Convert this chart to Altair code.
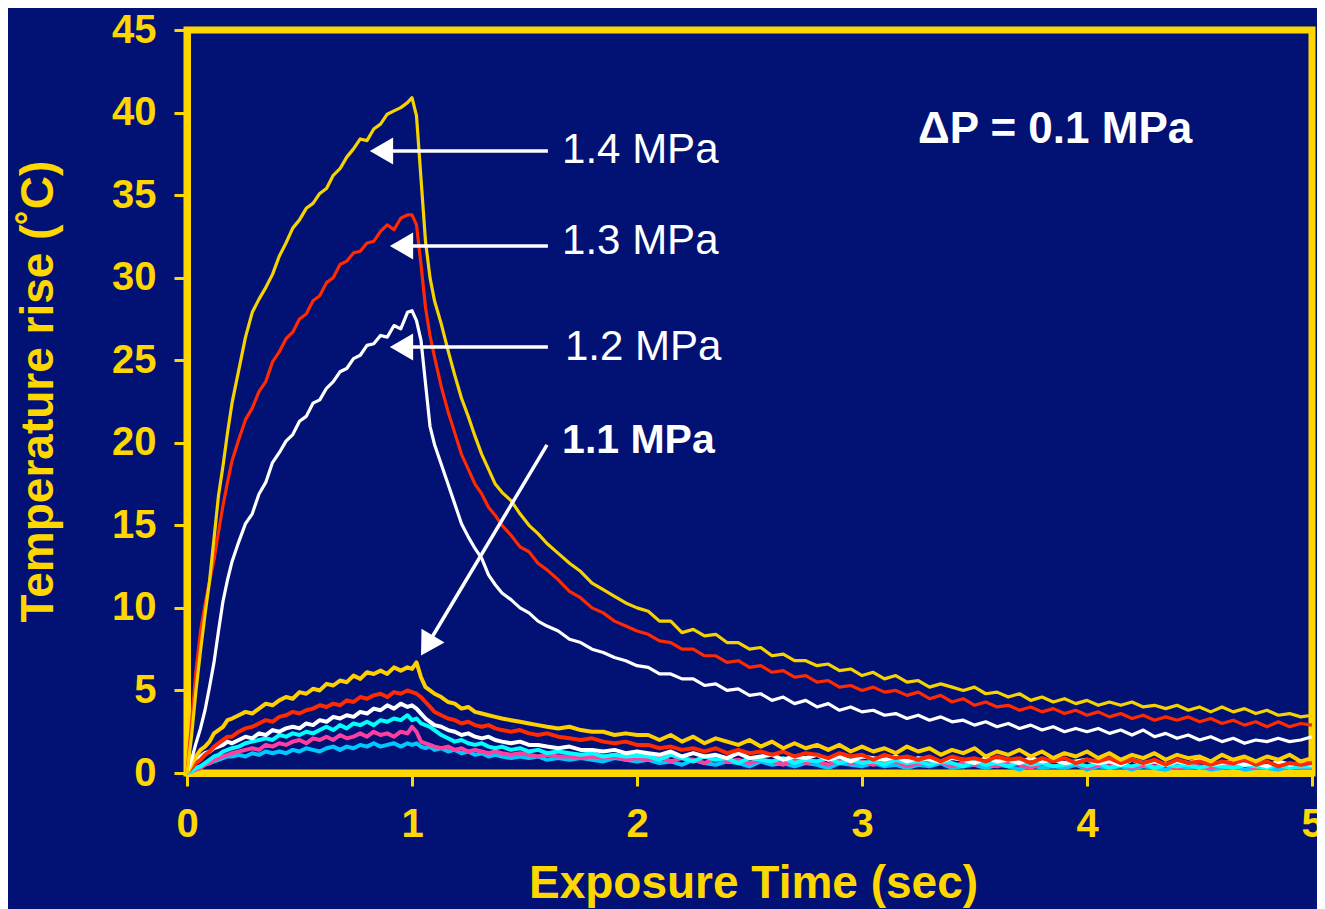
import altair as alt
import pandas as pd

# ---------------- data ----------------
T_RISE = [0, 0.02, 0.04, 0.06, 0.08, 0.10, 0.12, 0.14, 0.16, 0.18, 0.20, 0.23, 0.26, 0.29, 0.32,
          0.35, 0.38, 0.41, 0.44, 0.47, 0.50, 0.53, 0.56, 0.59, 0.62, 0.65, 0.68, 0.71, 0.74, 0.77,
          0.80, 0.83, 0.86, 0.89, 0.92, 0.95, 0.98, 1.00, 1.02, 1.04, 1.06, 1.08, 1.10, 1.13, 1.16,
          1.19, 1.22, 1.25, 1.28, 1.31, 1.34, 1.37, 1.40, 1.44, 1.48, 1.52, 1.56, 1.60, 1.65, 1.70,
          1.75, 1.80, 1.85, 1.90, 1.95, 2.00]
T_TAIL = [2.05, 2.10, 2.15, 2.20, 2.25, 2.30, 2.35, 2.40, 2.45, 2.50, 2.55, 2.60, 2.65, 2.70, 2.75,
          2.80, 2.85, 2.90, 2.95, 3.00, 3.05, 3.10, 3.15, 3.20, 3.25, 3.30, 3.35, 3.40, 3.45, 3.50,
          3.55, 3.60, 3.65, 3.70, 3.75, 3.80, 3.85, 3.90, 3.95, 4.00, 4.05, 4.10, 4.15, 4.20, 4.25,
          4.30, 4.35, 4.40, 4.45, 4.50, 4.55, 4.60, 4.65, 4.70, 4.75, 4.80, 4.85, 4.90, 4.95, 5.00]
TIME = T_RISE + T_TAIL

P14 = [0, 2.2, 5.0, 7.4, 9.6, 11.6, 14.2, 16.8, 18.6, 20.6, 22.4, 24.4, 26.4, 27.9, 28.7, 29.4, 30.2,
       31.3, 32.1, 33.0, 33.5, 34.2, 34.5, 35.1, 35.4, 36.2, 36.6, 37.3, 37.8, 38.4, 38.3, 39.0, 39.3,
       39.9, 40.1, 40.3, 40.6, 40.9, 39.8, 36.0, 32.2, 30.0, 28.6, 27.2, 25.6, 24.1, 22.7, 21.6, 20.4,
       19.3, 18.4, 17.5, 17.0, 16.5, 15.7, 15.0, 14.5, 13.9, 13.3, 12.7, 12.2, 11.5, 11.1, 10.7, 10.3, 10.0] + \
      [9.8, 9.2, 9.2, 8.5, 8.7, 8.3, 8.4, 7.9, 7.9, 7.5, 7.6, 7.1, 7.2, 6.8, 6.8, 6.5, 6.6, 6.2, 6.3, 5.9,
       6.1, 5.7, 5.9, 5.5, 5.6, 5.2, 5.4, 5.2, 5.0, 5.2, 4.8, 4.9, 4.6, 4.8, 4.4, 4.6, 4.3, 4.5, 4.2, 4.4,
       4.1, 4.3, 4.1, 4.3, 4.0, 4.1, 3.9, 4.1, 3.8, 4.0, 3.7, 4.0, 3.7, 3.9, 3.6, 3.8, 3.5, 3.6, 3.4, 3.5]

P13 = [0, 3.0, 6.2, 8.6, 10.2, 11.6, 12.9, 14.6, 16.2, 17.6, 18.9, 20.2, 21.4, 22.1, 23.1, 23.7, 24.9,
       25.5, 26.3, 26.7, 27.5, 27.8, 28.6, 28.9, 29.7, 30.0, 30.8, 31.0, 31.5, 31.6, 32.1, 32.2, 32.8,
       33.2, 32.9, 33.6, 33.8, 33.8, 33.2, 30.8, 28.2, 26.5, 25.2, 23.4, 21.9, 20.6, 19.3, 18.4, 17.5,
       16.9, 16.1, 15.6, 15.0, 14.4, 13.7, 13.4, 12.7, 12.3, 11.7, 11.0, 10.6, 10.0, 9.7, 9.2, 8.9, 8.6] + \
      [8.4, 8.0, 7.9, 7.5, 7.5, 7.1, 7.1, 6.7, 6.8, 6.4, 6.5, 6.1, 6.2, 5.8, 5.9, 5.5, 5.6, 5.2, 5.3, 5.0,
       5.2, 4.9, 5.0, 4.7, 4.9, 4.5, 4.7, 4.3, 4.5, 4.1, 4.3, 4.0, 4.1, 3.8, 4.0, 3.7, 3.9, 3.6, 3.8, 3.5,
       3.7, 3.4, 3.6, 3.3, 3.5, 3.2, 3.4, 3.2, 3.4, 3.1, 3.3, 3.0, 3.2, 2.9, 3.1, 2.8, 3.1, 2.8, 3.0, 2.9]

P12 = [0, 0.8, 1.8, 2.7, 3.8, 5.2, 6.7, 8.6, 10.4, 11.7, 12.8, 14.0, 15.1, 15.7, 16.9, 17.6, 18.8,
       19.4, 20.1, 20.5, 21.3, 21.6, 22.4, 22.6, 23.3, 23.7, 24.3, 24.5, 25.1, 25.3, 25.9, 26.0, 26.5,
       26.4, 27.1, 26.9, 27.9, 28.0, 27.4, 26.2, 23.6, 21.0, 19.9, 18.7, 17.5, 16.3, 15.1, 14.3, 13.6,
       13.0, 12.0, 11.4, 10.9, 10.5, 10.0, 9.7, 9.2, 8.9, 8.6, 8.1, 7.9, 7.5, 7.3, 7.0, 6.8, 6.5] + \
      [6.4, 6.0, 6.0, 5.7, 5.7, 5.3, 5.4, 5.0, 5.1, 4.7, 4.8, 4.4, 4.6, 4.2, 4.4, 4.0, 4.2, 3.8, 4.0, 3.7,
       3.8, 3.5, 3.6, 3.3, 3.5, 3.2, 3.4, 3.1, 3.2, 2.9, 3.1, 2.8, 3.0, 2.7, 2.9, 2.6, 2.8, 2.5, 2.7, 2.5,
       2.7, 2.4, 2.6, 2.3, 2.6, 2.2, 2.4, 2.1, 2.3, 2.0, 2.2, 1.9, 2.1, 1.8, 2.0, 1.9, 2.1, 1.9, 2.0, 2.2]

P11 = [0, 0.5, 1.0, 1.4, 1.6, 1.9, 2.4, 2.6, 2.8, 3.2, 3.3, 3.5, 3.7, 3.6, 3.9, 4.2, 4.1, 4.4, 4.6,
       4.5, 4.9, 4.8, 5.1, 5.0, 5.4, 5.3, 5.6, 5.5, 5.9, 5.7, 6.1, 6.0, 6.2, 6.0, 6.4, 6.2, 6.4, 6.3,
       6.7, 5.8, 5.2, 5.0, 4.8, 4.6, 4.3, 4.2, 3.9, 4.0, 3.7, 3.6, 3.5, 3.4, 3.3, 3.2, 3.1, 3.0, 2.9,
       2.8, 2.7, 2.8, 2.6, 2.5, 2.5, 2.3, 2.4, 2.3] + \
      [2.3, 2.0, 2.3, 1.9, 2.2, 1.8, 2.1, 1.9, 1.7, 2.0, 1.6, 1.9, 1.5, 1.8, 1.5, 1.7, 1.4, 1.7, 1.3, 1.6,
       1.3, 1.5, 1.2, 1.6, 1.3, 1.5, 1.1, 1.4, 1.2, 1.5, 1.0, 1.3, 1.1, 1.4, 1.0, 1.3, 0.9, 1.2, 1.0, 1.3,
       0.9, 1.2, 0.8, 1.1, 0.9, 1.2, 0.8, 1.1, 0.9, 1.0, 0.7, 1.1, 0.8, 1.0, 0.7, 1.0, 0.8, 1.1, 0.7, 0.9]

P10 = [0, 0.3, 0.6, 0.8, 1.1, 1.3, 1.6, 1.8, 2.0, 2.2, 2.2, 2.5, 2.7, 2.8, 3.0, 3.2, 3.1, 3.4, 3.5,
       3.7, 3.6, 3.8, 3.9, 4.1, 4.0, 4.2, 4.1, 4.4, 4.3, 4.6, 4.5, 4.7, 4.8, 4.6, 4.9, 4.8, 5.0, 4.9,
       4.8, 4.6, 4.3, 4.0, 3.7, 3.5, 3.3, 3.2, 3.0, 3.1, 2.9, 2.8, 2.9, 2.7, 2.6, 2.5, 2.6, 2.4, 2.3,
       2.4, 2.2, 2.1, 2.0, 2.1, 1.9, 1.8, 1.9, 1.7] + \
      [1.7, 1.5, 1.6, 1.4, 1.5, 1.3, 1.5, 1.2, 1.4, 1.2, 1.3, 1.1, 1.3, 1.0, 1.2, 1.1, 0.9, 1.2, 1.0, 1.1,
       0.8, 1.1, 0.9, 1.0, 0.8, 1.0, 0.7, 1.0, 0.8, 0.9, 0.7, 1.0, 0.8, 0.9, 0.6, 0.9, 0.7, 0.9, 0.6, 0.8,
       0.7, 0.9, 0.6, 0.8, 0.6, 0.8, 0.5, 0.8, 0.6, 0.7, 0.5, 0.7, 0.6, 0.8, 0.5, 0.7, 0.4, 0.6, 0.5, 0.6]

P09 = [0, 0.4, 0.7, 1.0, 1.2, 1.3, 1.5, 1.6, 1.7, 1.9, 1.8, 2.0, 2.2, 2.1, 2.4, 2.3, 2.6, 2.5, 2.7,
       2.8, 2.7, 3.0, 2.9, 3.2, 3.1, 3.4, 3.3, 3.5, 3.4, 3.7, 3.6, 3.9, 3.8, 4.1, 3.9, 4.2, 4.0, 4.1,
       3.9, 3.6, 3.3, 3.1, 2.9, 2.8, 2.6, 2.5, 2.3, 2.4, 2.2, 2.1, 2.2, 2.0, 1.9, 1.8, 1.9, 1.7, 1.7,
       1.6, 1.5, 1.6, 1.4, 1.4, 1.3, 1.4, 1.2, 1.3] + \
      [1.2, 1.1, 1.3, 1.0, 1.2, 1.0, 1.1, 0.9, 1.2, 0.9, 1.0, 1.1, 0.8, 1.0, 0.9, 1.1, 0.8, 1.0, 0.7, 1.0,
       0.9, 0.8, 1.0, 0.7, 0.9, 0.8, 0.7, 0.9, 0.8, 0.6, 0.9, 0.7, 0.8, 0.6, 0.9, 0.7, 0.8, 0.6, 0.7, 0.8,
       0.6, 0.7, 0.5, 0.8, 0.6, 0.7, 0.5, 0.7, 0.6, 0.8, 0.5, 0.6, 0.7, 0.5, 0.6, 0.4, 0.7, 0.5, 0.6, 0.5]

P08 = [0, 0.1, 0.3, 0.4, 0.6, 0.8, 1.0, 1.1, 1.3, 1.4, 1.5, 1.6, 1.8, 1.9, 2.0, 2.1, 2.0, 2.3, 2.2,
       2.4, 2.3, 2.5, 2.4, 2.6, 2.8, 2.6, 2.9, 2.7, 3.0, 2.9, 3.1, 2.9, 3.2, 3.1, 3.3, 3.2, 3.5, 3.2,
       3.3, 3.0, 2.9, 2.8, 2.6, 2.3, 2.1, 1.9, 2.0, 1.8, 1.7, 1.8, 1.6, 1.5, 1.6, 1.4, 1.5, 1.3, 1.4,
       1.2, 1.3, 1.2, 1.1, 1.2, 1.0, 1.1, 1.0, 1.05] + \
      [1.0, 0.8, 1.1, 0.9, 0.7, 1.0, 0.8, 0.9, 0.6, 0.9, 0.8, 0.7, 0.9, 0.6, 0.8, 0.7, 0.9, 0.6, 0.8, 0.6,
       0.7, 0.5, 0.8, 0.6, 0.7, 0.5, 0.7, 0.6, 0.4, 0.7, 0.5, 0.6, 0.4, 0.7, 0.5, 0.6, 0.4, 0.5, 0.6, 0.4,
       0.6, 0.3, 0.5, 0.4, 0.6, 0.3, 0.5, 0.4, 0.5, 0.3, 0.5, 0.4, 0.3, 0.5, 0.4, 0.3, 0.5, 0.3, 0.4, 0.4]

P07 = [0, 0.1, 0.2, 0.3, 0.5, 0.6, 0.8, 0.9, 1.0, 1.1, 1.2, 1.3, 1.4, 1.5, 1.4, 1.7, 1.6, 1.8, 1.7,
       1.9, 2.0, 1.8, 2.1, 2.0, 2.2, 2.0, 2.3, 2.1, 2.2, 2.4, 2.2, 2.5, 2.3, 2.4, 2.2, 2.5, 2.4, 2.8,
       2.5, 1.9, 1.8, 1.7, 1.6, 1.5, 1.6, 1.4, 1.5, 1.3, 1.4, 1.3, 1.2, 1.3, 1.2, 1.1, 1.2, 1.1, 1.0,
       1.1, 1.0, 1.0, 0.9, 1.0, 0.9, 1.0, 0.8, 0.9] + \
      [0.8, 1.0, 0.7, 0.9, 0.8, 0.6, 0.9, 0.7, 0.8, 0.6, 0.8, 0.7, 0.5, 0.8, 0.6, 0.7, 0.5, 0.8, 0.6, 0.7,
       0.5, 0.6, 0.7, 0.4, 0.6, 0.5, 0.7, 0.4, 0.6, 0.5, 0.6, 0.4, 0.6, 0.5, 0.3, 0.6, 0.4, 0.5, 0.6, 0.3,
       0.5, 0.4, 0.6, 0.3, 0.5, 0.4, 0.5, 0.3, 0.5, 0.4, 0.3, 0.5, 0.4, 0.5, 0.3, 0.4, 0.5, 0.3, 0.4, 0.4]

P06 = [0, 0.1, 0.3, 0.4, 0.5, 0.6, 0.7, 0.8, 0.9, 1.0, 1.0, 1.1, 1.0, 1.2, 1.1, 1.3, 1.2, 1.3, 1.2,
       1.4, 1.3, 1.5, 1.4, 1.3, 1.5, 1.6, 1.4, 1.6, 1.5, 1.7, 1.6, 1.8, 1.6, 1.7, 1.8, 1.6, 1.8, 1.7,
       1.8, 1.6, 1.5, 1.6, 1.4, 1.5, 1.3, 1.4, 1.2, 1.3, 1.1, 1.2, 1.0, 1.1, 1.0, 0.9, 1.0, 0.9, 1.0,
       0.8, 0.9, 0.8, 0.9, 0.8, 0.7, 0.9, 0.8, 0.7] + \
      [0.8, 0.6, 0.7, 0.5, 0.8, 0.6, 0.5, 0.7, 0.6, 0.4, 0.7, 0.5, 0.6, 0.4, 0.6, 0.5, 0.3, 0.6, 0.5, 0.4,
       0.6, 0.4, 0.5, 0.3, 0.5, 0.4, 0.6, 0.3, 0.4, 0.5, 0.3, 0.5, 0.4, 0.2, 0.5, 0.3, 0.4, 0.3, 0.5, 0.2,
       0.4, 0.3, 0.4, 0.2, 0.4, 0.3, 0.2, 0.4, 0.3, 0.4, 0.2, 0.3, 0.4, 0.2, 0.3, 0.3, 0.2, 0.4, 0.3, 0.3]

# drawing order: bottom-most first
SERIES_NAMES = ["0.6 MPa", "0.7 MPa", "0.8 MPa", "0.9 MPa", "1.0 MPa", "1.1 MPa",
                "1.2 MPa", "1.3 MPa", "1.4 MPa"]
SERIES_VALUES = [P06, P07, P08, P09, P10, P11, P12, P13, P14]
SERIES_COLORS = ["#00C8FF", "#FF3FA0", "#00FFFF", "#FFFFFF", "#FF2A00", "#FFD000",
                 "#FFFFFF", "#FF2A00", "#F5D300"]
SERIES_WIDTHS = [4.0, 4.0, 4.0, 4.0, 4.0, 4.0, 3.2, 3.2, 3.2]

# annotations (data units)
LABELS = ["1.4 MPa", "1.3 MPa", "1.2 MPa"]
LABEL_T = [1.667, 1.667, 1.68]
LABEL_V = [36.95, 31.43, 25.01]
BOLD_LABELS = ["1.1 MPa", "ΔP = 0.1 MPa"]
BOLD_T = [1.667, 3.249]
BOLD_V = [19.38, 38.16]
BOLD_SIZE = [41, 44]
ARROW_T0 = [1.604, 1.604, 1.604]
ARROW_T1 = [0.8644, 0.9533, 0.9533]
ARROW_V = [37.67, 31.92, 25.80]
DIAG_T = [1.600, 1.0756]
DIAG_V = [19.87, 7.92]
DIAG_ANGLE = 211

for vals in SERIES_VALUES:
    assert len(vals) == len(TIME), len(vals)

# ---------------- chart ----------------
FONT = "Liberation Sans"
YEL = "#FFD700"
BG = "#021274"

x_axis = alt.Axis(values=[0, 1, 2, 3, 4, 5], format="d", title="Exposure Time (sec)", grid=False,
                  domainColor=YEL, domainWidth=7, tickColor=YEL, tickWidth=3, tickSize=13,
                  labelColor=YEL, labelFont=FONT, labelFontSize=40, labelFontWeight="bold",
                  labelPadding=18, labelFlush=False, labelOverlap=False,
                  titleColor=YEL, titleFont=FONT, titleFontSize=46, titleFontWeight="bold",
                  titleX=566, titleY=124, titleBaseline="alphabetic", titleAlign="center")
y_axis = alt.Axis(values=list(range(0, 50, 5)), format="d", title="Temperature rise (˚C)", grid=False,
                  domainColor=YEL, domainWidth=7, tickColor=YEL, tickWidth=3, tickSize=13,
                  labelColor=YEL, labelFont=FONT, labelFontSize=40, labelFontWeight="bold",
                  labelPadding=18, labelFlush=False, labelOverlap=False,
                  titleColor=YEL, titleFont=FONT, titleFontSize=46, titleFontWeight="bold",
                  titleAngle=270, titleX=-135, titleY=361, titleBaseline="alphabetic",
                  titleAlign="center")
xs = alt.Scale(domain=[0, 5], nice=False, zero=False)
ys = alt.Scale(domain=[0, 45], nice=False, zero=False)


def X(field="t"):
    return alt.X(f"{field}:Q", scale=xs, axis=x_axis)


def Y(field="v"):
    return alt.Y(f"{field}:Q", scale=ys, axis=y_axis)


layers = []
for name, vals, col, w in zip(SERIES_NAMES, SERIES_VALUES, SERIES_COLORS, SERIES_WIDTHS):
    df = pd.DataFrame({"t": TIME, "v": vals, "series": name})
    layers.append(
        alt.Chart(df).mark_line(color=col, strokeWidth=w, strokeJoin="round").encode(x=X(), y=Y())
    )

# arrows
arr = pd.DataFrame({"t": ARROW_T0, "t2": ARROW_T1, "v": ARROW_V})
layers.append(alt.Chart(arr).mark_rule(color="white", strokeWidth=3.5).encode(
    x=X(), x2="t2:Q", y=Y(), y2="v:Q"))
layers.append(alt.Chart(arr).mark_point(shape="triangle-left", size=720, filled=True, opacity=1,
                                        color="white", strokeWidth=0).encode(x=X("t2"), y=Y()))
diag = pd.DataFrame({"t": [DIAG_T[0]], "v": [DIAG_V[0]], "t2": [DIAG_T[1]], "v2": [DIAG_V[1]]})
layers.append(alt.Chart(diag).mark_rule(color="white", strokeWidth=3.5).encode(
    x=X(), x2="t2:Q", y=Y(), y2="v2:Q"))
layers.append(alt.Chart(diag).mark_point(shape="triangle", angle=DIAG_ANGLE, size=720, filled=True,
                                         opacity=1, color="white", strokeWidth=0).encode(
    x=X("t2"), y=Y("v2")))

# labels
lab = pd.DataFrame({"t": LABEL_T, "v": LABEL_V, "label": LABELS})
layers.append(alt.Chart(lab).mark_text(align="left", baseline="alphabetic", font=FONT,
                                       fontSize=42, color="white").encode(
    x=X(), y=Y(), text="label:N"))
for lbl, t, v, s in zip(BOLD_LABELS, BOLD_T, BOLD_V, BOLD_SIZE):
    bd = pd.DataFrame({"t": [t], "v": [v], "label": [lbl]})
    layers.append(alt.Chart(bd).mark_text(align="left", baseline="alphabetic", font=FONT,
                                          fontSize=s, fontWeight="bold", color="white").encode(
        x=X(), y=Y(), text="label:N"))

chart = alt.layer(*layers).properties(
    width=1125, height=743,
    autosize=alt.AutoSizeParams(type="none"),
    padding={"left": 179, "top": 22, "right": 5, "bottom": 136},
    background=BG,
).configure_view(stroke=YEL, strokeWidth=7)

chart.save("out.html", embed_options={"renderer": "svg", "actions": False})
